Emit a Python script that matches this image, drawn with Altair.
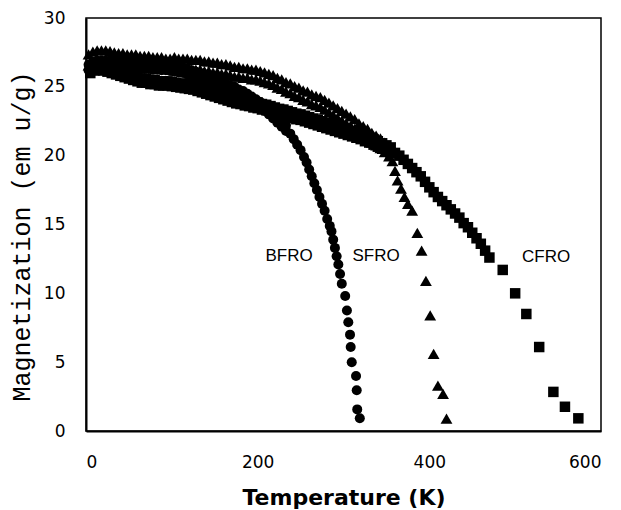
import altair as alt
import pandas as pd

# ---- data (Temperature in K, Magnetization in emu/g) ----
# dense low-temperature parts: upper and lower edge readings of each thick band
bfro_band_T = [3, 8, 13, 18, 23, 28, 33, 38, 43, 48, 53, 58, 63, 68, 73, 78, 83, 88, 93, 98,
               103, 108, 113, 118, 123, 128, 133, 138, 143, 148, 153, 158, 163, 168, 173, 178,
               183, 188, 193, 198, 203, 208, 213, 218, 223, 228, 233]
bfro_band_hi = [26.6, 26.8, 26.9, 26.9, 26.9, 26.9, 26.85, 26.85, 26.8, 26.8, 26.75, 26.75,
                26.7, 26.7, 26.7, 26.65, 26.65, 26.6, 26.6, 26.55, 26.5, 26.45, 26.4, 26.3,
                26.2, 26.1, 26.0, 25.9, 25.8, 25.65, 25.5, 25.4, 25.25, 25.1, 25.0, 24.8,
                24.7, 24.5, 24.3, 24.1, 23.9, 23.65, 23.4, 23.1, 22.8, 22.5, 22.2]
bfro_band_lo = [26.2, 26.4, 26.5, 26.5, 26.5, 26.5, 26.45, 26.45, 26.4, 26.4, 26.35, 26.35,
                26.3, 26.3, 26.3, 26.25, 26.25, 26.2, 26.2, 26.15, 26.1, 26.05, 26.0, 25.9,
                25.8, 25.7, 25.6, 25.5, 25.4, 25.25, 25.1, 25.0, 24.85, 24.7, 24.6, 24.4,
                24.3, 24.1, 23.9, 23.7, 23.5, 23.25, 23.0, 22.7, 22.4, 22.1, 21.8]
bfro_tail_T = [238, 242, 246, 250, 254, 257, 260, 263, 266, 269, 272, 275, 278, 281, 284,
               286, 288, 290, 292, 294, 296, 298, 302, 304, 305.6, 307.6, 308.4, 309.6,
               314.6, 315.4, 316, 319]
bfro_tail_M = [21.6, 21.2, 20.8, 20.4, 19.9, 19.5, 19.0, 18.5, 18.0, 17.5, 17.0, 16.5, 16.0,
               15.4, 14.9, 14.5, 13.9, 13.3, 12.7, 12.1, 11.4, 10.7, 9.8, 8.75, 7.9, 7.0,
               6.1, 5.0, 4.0, 2.96, 1.57, 0.92]

sfro_band_T = [3, 8, 13, 18, 23, 28, 33, 38, 43, 48, 53, 58, 63, 68, 73, 78, 83, 88, 93, 98,
               103, 108, 113, 118, 123, 128, 133, 138, 143, 148, 153, 158, 163, 168, 173, 178,
               183, 188, 193, 198, 203, 208, 213, 218, 223, 228, 233, 238, 243, 248, 253, 258,
               263, 268, 273, 278, 283, 288, 293, 298, 303, 308, 313, 318, 323, 328, 333, 338,
               343, 348, 353]
sfro_band_hi = [27.35, 27.55, 27.65, 27.65, 27.65, 27.6, 27.5, 27.45, 27.45, 27.35, 27.35,
                27.35, 27.25, 27.25, 27.25, 27.15, 27.15, 27.15, 27.05, 27.05, 27.15, 27.05,
                27.05, 27.05, 26.95, 26.95, 26.95, 26.85, 26.85, 26.75, 26.75, 26.65, 26.65,
                26.55, 26.45, 26.45, 26.35, 26.35, 26.25, 26.25, 26.15, 26.05, 25.95, 25.85,
                25.65, 25.55, 25.35, 25.25, 25.05, 24.95, 24.75, 24.65, 24.45, 24.35, 24.25,
                24.05, 23.85, 23.65, 23.45, 23.25, 23.05, 22.85, 22.65, 22.35, 22.15, 21.95,
                21.65, 21.45, 21.25, 20.95, 20.65]
sfro_band_lo = [26.55, 26.75, 26.85, 26.85, 26.85, 26.85, 26.75, 26.75, 26.75, 26.65, 26.65,
                26.65, 26.55, 26.55, 26.55, 26.45, 26.45, 26.45, 26.35, 26.35, 26.45, 26.35,
                26.35, 26.35, 26.25, 26.25, 26.25, 26.15, 26.15, 26.05, 26.05, 25.95, 25.95,
                25.85, 25.75, 25.75, 25.65, 25.65, 25.55, 25.55, 25.45, 25.35, 25.25, 25.15,
                24.95, 24.85, 24.65, 24.55, 24.35, 24.25, 24.05, 23.95, 23.75, 23.65, 23.55,
                23.35, 23.15, 22.95, 22.75, 22.55, 22.35, 22.15, 21.95, 21.65, 21.45, 21.25,
                20.95, 20.75, 20.55, 20.25, 19.95]
sfro_tail_T = [357, 360, 363, 367, 371, 375, 380, 386, 391, 396, 401, 405, 410, 416, 420]
sfro_tail_M = [19.6, 18.9, 18.2, 17.6, 17.0, 16.5, 16.0, 14.4, 13.1, 10.9, 8.4, 5.6, 3.3,
               2.7, 0.9]

cfro_band_T = [5, 10, 15, 20, 25, 30, 35, 40, 45, 50, 55, 60, 65, 70, 75, 80, 85, 90, 95, 100,
               105, 110, 115, 120, 125, 130, 135, 140, 145, 150, 155, 160, 165, 170, 175, 180,
               185, 190, 195, 200, 205, 210, 215, 220, 225, 230, 235, 240, 245, 250, 255, 260,
               265, 270, 275, 280, 285, 290, 295, 300, 305, 310, 315, 320, 325, 330, 335, 340,
               345, 350, 355]
cfro_band_hi = [26.4, 26.6, 26.6, 26.6, 26.5, 26.4, 26.3, 26.2, 26.1, 26.0,
                25.8, 25.7, 25.6, 25.6, 25.5, 25.5, 25.4, 25.4, 25.4, 25.35,
                25.3, 25.25, 25.2, 25.15, 25.2, 25.1, 25.0, 24.9, 24.8, 24.7,
                24.6, 24.5, 24.4, 24.3, 24.2, 24.15, 24.05, 24.0, 23.9, 23.85,
                23.75, 23.7, 23.6, 23.5, 23.4, 23.35, 23.25, 23.15, 23.05, 23.0,
                22.9, 22.8, 22.7, 22.6, 22.5, 22.4, 22.3, 22.2, 22.1, 22.0,
                21.9, 21.8, 21.7, 21.6, 21.45, 21.35, 21.2, 21.05, 20.9, 20.75, 20.6]
cfro_band_lo = [26.0, 26.2, 26.2, 26.2, 26.1, 26.0, 25.9, 25.8, 25.7, 25.6,
                25.5, 25.4, 25.3, 25.3, 25.2, 25.2, 25.1, 25.1, 25.1, 25.05,
                25.0, 24.95, 24.9, 24.85, 24.8, 24.7, 24.6, 24.5, 24.4, 24.3,
                24.2, 24.1, 24.0, 23.9, 23.8, 23.75, 23.65, 23.6, 23.5, 23.45,
                23.35, 23.3, 23.2, 23.1, 23.0, 22.95, 22.85, 22.75, 22.65, 22.6,
                22.5, 22.4, 22.3, 22.2, 22.1, 22.0, 21.9, 21.8, 21.7, 21.6,
                21.5, 21.4, 21.3, 21.2, 21.05, 20.95, 20.8, 20.65, 20.5, 20.35, 20.2]
cfro_tail_T = [360, 365, 370, 375, 380, 385, 390, 395, 400, 405, 410, 415, 420, 425, 430,
               435, 440, 445, 450, 455, 460, 465, 470, 485.5, 500, 513, 528, 544.5, 558,
               573.6]
cfro_tail_M = [20.2, 20.0, 19.7, 19.4, 19.1, 18.8, 18.5, 18.1, 17.7, 17.35, 17.0, 16.7,
               16.4, 16.1, 15.8, 15.5, 15.1, 14.8, 14.4, 14.0, 13.6, 13.1, 12.6, 11.7, 10.0,
               8.5, 6.1, 2.84, 1.76, 0.92]

label_names = ["BFRO", "SFRO", "CFRO"]
label_T = [236.6, 338, 536]
label_M = [12.7, 12.7, 12.65]

x_ticks = [0, 200, 400, 600]
y_ticks = [0, 5, 10, 15, 20, 25, 30]


def series_frame(band_T, band_hi, band_lo, tail_T, tail_M):
    return pd.DataFrame({
        "T": list(band_T) + list(band_T) + list(tail_T),
        "M": list(band_hi) + list(band_lo) + list(tail_M),
    })


bfro = series_frame(bfro_band_T, bfro_band_hi, bfro_band_lo, bfro_tail_T, bfro_tail_M)
sfro = series_frame(sfro_band_T, sfro_band_hi, sfro_band_lo, sfro_tail_T, sfro_tail_M)
cfro = series_frame(cfro_band_T, cfro_band_hi, cfro_band_lo, cfro_tail_T, cfro_tail_M)
labels = pd.DataFrame({"T": label_T, "M": label_M, "name": label_names})

x_enc = alt.X("T:Q", scale=alt.Scale(domain=[0, 600], nice=False),
              axis=alt.Axis(values=x_ticks, title="Temperature (K)", grid=False,
                            ticks=False, labelPadding=23, labelFont="DejaVu Sans",
                            labelFontSize=17, labelColor="black",
                            titleFont="DejaVu Sans", titleFontWeight="bold",
                            titleFontSize=22, titleColor="black",
                            titleBaseline="middle", titleY=66,
                            domainColor="black", domainWidth=2))
y_enc = alt.Y("M:Q", scale=alt.Scale(domain=[0, 30], nice=False),
              axis=alt.Axis(values=y_ticks, title="Magnetization (em u/g)", grid=False,
                            ticks=False, labelPadding=21, labelFont="DejaVu Sans",
                            labelFontSize=17, labelColor="black",
                            titleFont="Liberation Mono", titleFontWeight="normal",
                            titleFontSize=25, titleColor="black",
                            titleAngle=270, titleAlign="center", titleBaseline="middle",
                            titleX=-65, titleY=218,
                            domainColor="black", domainWidth=2))

circles = alt.Chart(bfro).mark_point(shape="circle", filled=True, size=100, color="black",
                                     opacity=1).encode(x=x_enc, y=y_enc)
triangles = alt.Chart(sfro).mark_point(shape="triangle-up", filled=True, size=140,
                                       color="black", opacity=1).encode(x="T:Q", y="M:Q")
squares = alt.Chart(cfro).mark_point(shape="square", filled=True, size=110, color="black",
                                     opacity=1).encode(x="T:Q", y="M:Q")
texts = alt.Chart(labels).mark_text(font="Liberation Sans", fontSize=17, color="black",
                                    align="center", baseline="middle").encode(
    x="T:Q", y="M:Q", text="name:N")

chart = alt.layer(circles, triangles, squares, texts).properties(
    width=515, height=413,
    autosize=alt.AutoSizeParams(type="none"),
    padding={"left": 78, "top": 10, "right": 12, "bottom": 78},
).configure_view(stroke="black", strokeWidth=1.5)

chart.save("out.html", embed_options={"renderer": "svg", "actions": False})
